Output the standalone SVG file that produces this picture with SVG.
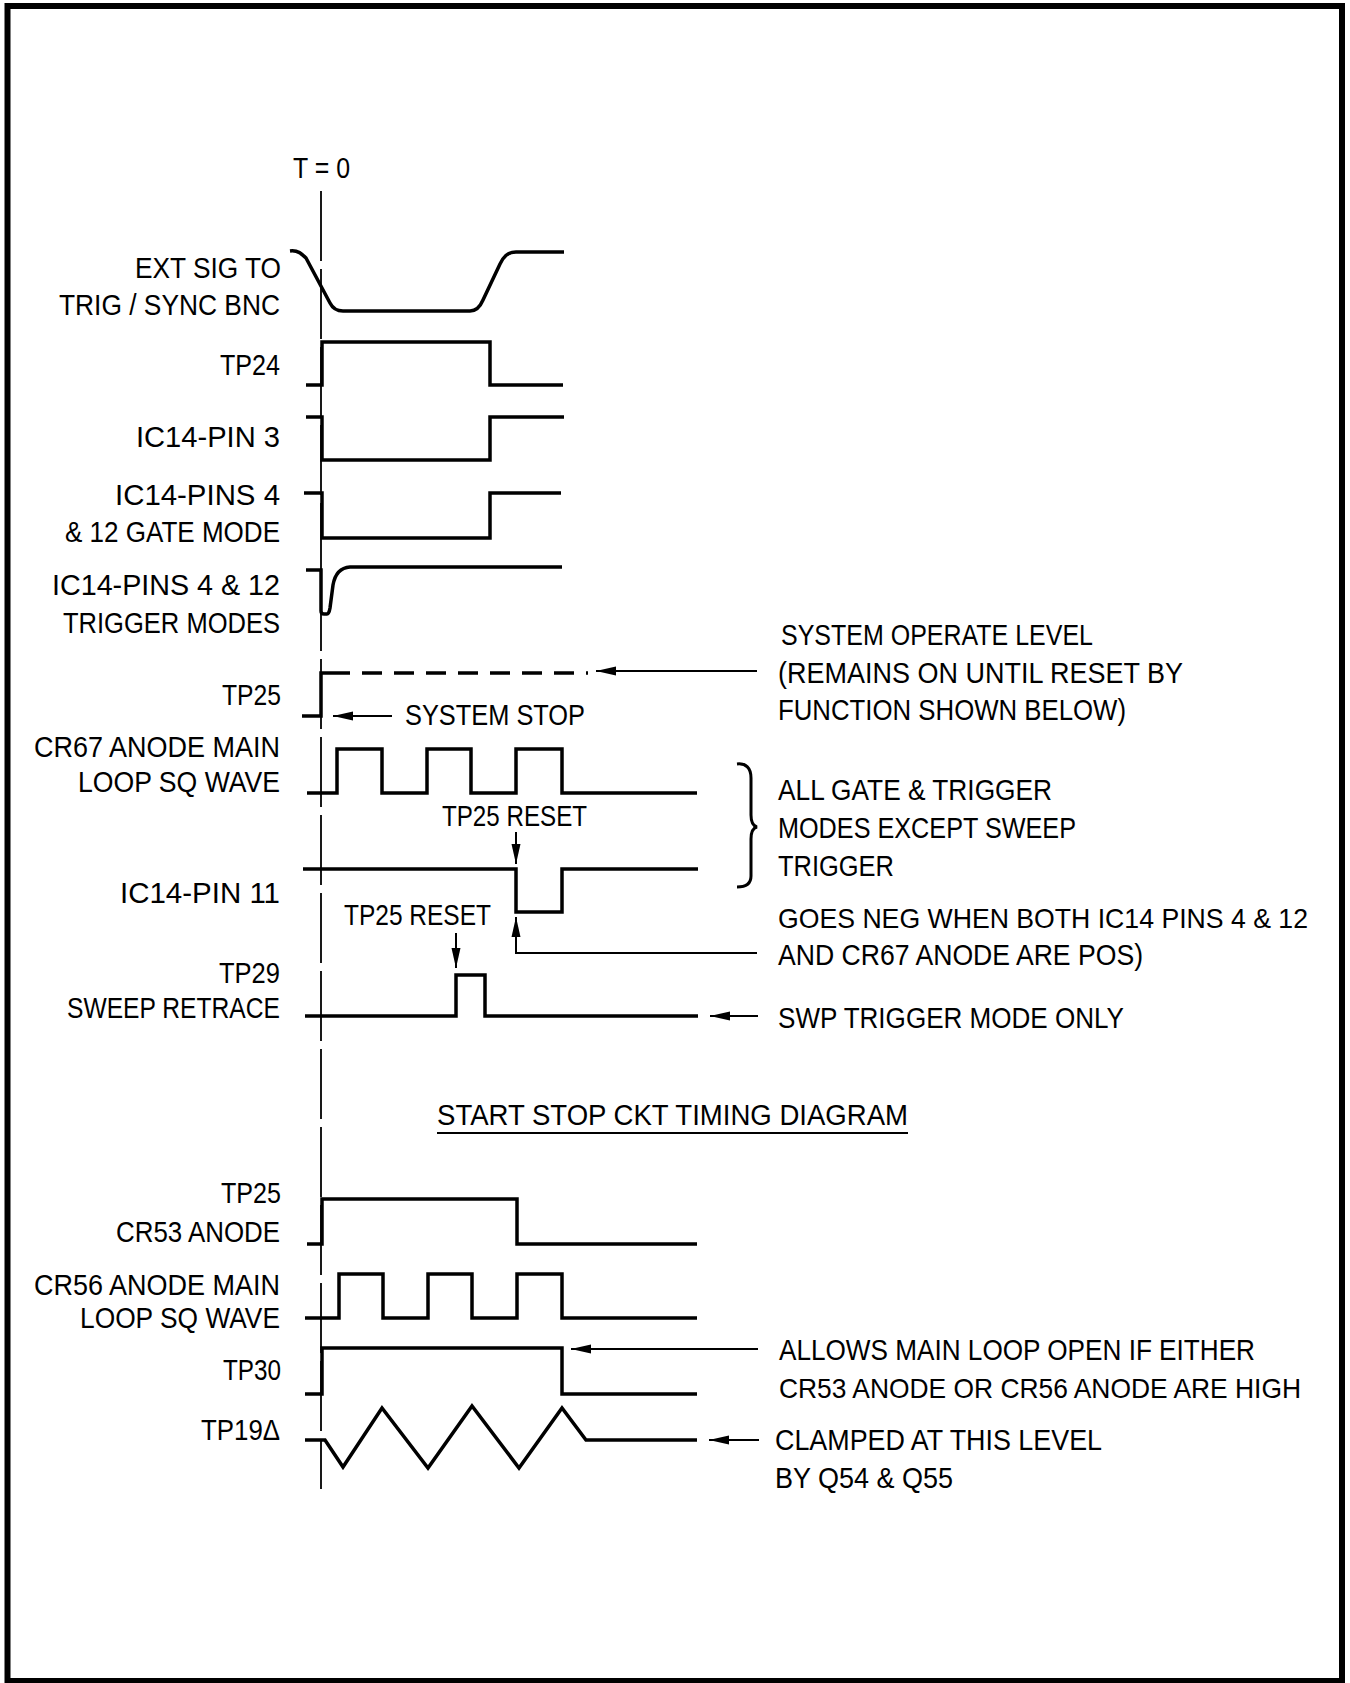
<svg xmlns="http://www.w3.org/2000/svg" width="1350" height="1683" viewBox="0 0 1350 1683">
<defs>
<style>
text{font-family:"Liberation Sans Narrow","Liberation Sans",Arial,sans-serif;font-size:29px;fill:#000}
.l{text-anchor:end}
.s{font-size:27.5px}
.w{fill:none;stroke:#000;stroke-width:3.5;stroke-linejoin:miter;stroke-linecap:butt}
.a{fill:none;stroke:#000;stroke-width:2}
.t0{fill:none;stroke:#000;stroke-width:1.8;stroke-dasharray:70 8}
</style>
<marker id="ah" viewBox="0 0 20 10" refX="20" refY="5" markerWidth="20" markerHeight="10" markerUnits="userSpaceOnUse" orient="auto"><path d="M0,0.5 L20,5 L0,9.5 z" fill="#000"/></marker>
</defs>
<rect x="0" y="0" width="1350" height="1683" fill="#fff"/>
<rect x="7.5" y="6" width="1334.5" height="1675" fill="none" stroke="#000" stroke-width="6"/>

<g id="t0">
<text x="293" y="178" textLength="57" lengthAdjust="spacingAndGlyphs">T = 0</text>
<line class="t0" x1="321" y1="191" x2="321" y2="1489"/>
</g>

<g id="ext-sig">
<text class="l" x="281" y="278" textLength="146" lengthAdjust="spacingAndGlyphs">EXT SIG TO</text>
<text class="l" x="280" y="315" textLength="221" lengthAdjust="spacingAndGlyphs">TRIG / SYNC BNC</text>
<path class="w" d="M290,251 C298,250 302,254 306,258 L330,303 C333,309 337,311 343,311 L470,311 C476,311 480,307 483,300 L500,264 C504,256 508,252 516,252 L564,252"/>
</g>

<g id="tp24">
<text class="l" x="280" y="375" textLength="60" lengthAdjust="spacingAndGlyphs">TP24</text>
<path class="w" d="M306,385 L322,385 L322,342 L490,342 L490,385 L563,385"/>
</g>

<g id="ic14-pin3">
<text class="l" x="280" y="447" textLength="144" lengthAdjust="spacingAndGlyphs">IC14-PIN 3</text>
<path class="w" d="M306,417 L322,417 L322,460 L490,460 L490,417 L564,417"/>
</g>

<g id="ic14-pins4-gate">
<text class="l" x="280" y="505" textLength="165" lengthAdjust="spacingAndGlyphs">IC14-PINS 4</text>
<text class="l" x="280" y="542" textLength="215" lengthAdjust="spacingAndGlyphs">&amp; 12 GATE MODE</text>
<path class="w" d="M304,493 L322,493 L322,538 L490,538 L490,493 L561,493"/>
</g>

<g id="ic14-pins4-trigger">
<text class="l" x="280" y="595" textLength="228" lengthAdjust="spacingAndGlyphs">IC14-PINS 4 &amp; 12</text>
<text class="l" x="280" y="633" textLength="217" lengthAdjust="spacingAndGlyphs">TRIGGER MODES</text>
<path class="w" d="M306,570 L321,570 L321,611 Q321,614 324,614 L327,614 Q329,614 330,608 L333,585 Q336,568 350,567 L562,567"/>
</g>

<g id="tp25-top">
<text class="l" x="281" y="705" textLength="59" lengthAdjust="spacingAndGlyphs">TP25</text>
<path class="w" d="M302,716 L321,716 L321,673 L350,673"/>
<line class="w" x1="362" y1="673" x2="588" y2="673" stroke-dasharray="20 12"/>
</g>

<g id="system-operate">
<text x="781" y="645" textLength="312" lengthAdjust="spacingAndGlyphs">SYSTEM OPERATE LEVEL</text>
<text x="778" y="683" textLength="405" lengthAdjust="spacingAndGlyphs">(REMAINS ON UNTIL RESET BY</text>
<text x="778" y="720" textLength="348" lengthAdjust="spacingAndGlyphs">FUNCTION SHOWN BELOW)</text>
</g>

<g id="system-stop">
<text x="405" y="725" textLength="180" lengthAdjust="spacingAndGlyphs">SYSTEM STOP</text>
</g>

<g id="cr67">
<text class="l" x="280" y="757" textLength="246" lengthAdjust="spacingAndGlyphs">CR67 ANODE MAIN</text>
<text class="l" x="280" y="792" textLength="202" lengthAdjust="spacingAndGlyphs">LOOP SQ WAVE</text>
<path class="w" d="M307,793 L337,793 L337,749 L382,749 L382,793 L427,793 L427,749 L471,749 L471,793 L516,793 L516,749 L562,749 L562,793 L697,793"/>
</g>

<g id="reset1">
<text x="442" y="826" textLength="145" lengthAdjust="spacingAndGlyphs">TP25 RESET</text>
</g>

<g id="ic14-pin11">
<text class="l" x="280" y="903" textLength="160" lengthAdjust="spacingAndGlyphs">IC14-PIN 11</text>
<path class="w" d="M303,869 L516,869 L516,912 L562,912 L562,869 L698,869"/>
</g>

<g id="brace-note">
<path d="M737,764 C746,763 751,768 751,778 L751,815 C751,822 753,826 757,827 C753,828 751,832 751,839 L751,876 C751,884 746,887 737,887" fill="none" stroke="#000" stroke-width="3"/>
<text x="778" y="800" textLength="274" lengthAdjust="spacingAndGlyphs">ALL GATE &amp; TRIGGER</text>
<text x="778" y="838" textLength="298" lengthAdjust="spacingAndGlyphs">MODES EXCEPT SWEEP</text>
<text x="778" y="876" textLength="116" lengthAdjust="spacingAndGlyphs">TRIGGER</text>
</g>

<g id="goes-neg">
<text class="s" x="778" y="928" textLength="530" lengthAdjust="spacingAndGlyphs">GOES NEG WHEN BOTH IC14 PINS 4 &amp; 12</text>
<text x="778" y="965" textLength="365" lengthAdjust="spacingAndGlyphs">AND CR67 ANODE ARE POS)</text>
</g>

<g id="reset2">
<text x="344" y="925" textLength="147" lengthAdjust="spacingAndGlyphs">TP25 RESET</text>
</g>

<g id="tp29">
<text class="l" x="280" y="983" textLength="61" lengthAdjust="spacingAndGlyphs">TP29</text>
<text class="l" x="280" y="1018" textLength="213" lengthAdjust="spacingAndGlyphs">SWEEP RETRACE</text>
<path class="w" d="M305,1016 L456,1016 L456,975 L485,975 L485,1016 L698,1016"/>
</g>

<g id="swp-note">
<text x="778" y="1028" textLength="346" lengthAdjust="spacingAndGlyphs">SWP TRIGGER MODE ONLY</text>
</g>

<g id="title">
<text x="437" y="1125" textLength="471" lengthAdjust="spacingAndGlyphs">START STOP CKT TIMING DIAGRAM</text>
<line x1="437" y1="1133" x2="908" y2="1133" stroke="#000" stroke-width="2"/>
</g>

<g id="tp25-cr53">
<text class="l" x="281" y="1203" textLength="60" lengthAdjust="spacingAndGlyphs">TP25</text>
<text class="l" x="280" y="1242" textLength="164" lengthAdjust="spacingAndGlyphs">CR53 ANODE</text>
<path class="w" d="M307,1244 L322,1244 L322,1199 L517,1199 L517,1244 L697,1244"/>
</g>

<g id="cr56">
<text class="l" x="280" y="1295" textLength="246" lengthAdjust="spacingAndGlyphs">CR56 ANODE MAIN</text>
<text class="l" x="280" y="1328" textLength="200" lengthAdjust="spacingAndGlyphs">LOOP SQ WAVE</text>
<path class="w" d="M305,1318 L339,1318 L339,1274 L383,1274 L383,1318 L428,1318 L428,1274 L472,1274 L472,1318 L517,1318 L517,1274 L562,1274 L562,1318 L697,1318"/>
</g>

<g id="tp30">
<text class="l" x="281" y="1380" textLength="58" lengthAdjust="spacingAndGlyphs">TP30</text>
<path class="w" d="M305,1394 L322,1394 L322,1348 L562,1348 L562,1394 L697,1394"/>
</g>

<g id="allows-note">
<text x="779" y="1360" textLength="476" lengthAdjust="spacingAndGlyphs">ALLOWS MAIN LOOP OPEN IF EITHER</text>
<text class="s" x="779" y="1398" textLength="522" lengthAdjust="spacingAndGlyphs">CR53 ANODE OR CR56 ANODE ARE HIGH</text>
</g>

<g id="tp19">
<text class="l" x="280" y="1440" textLength="79" lengthAdjust="spacingAndGlyphs">TP19Δ</text>
<path class="w" d="M305,1440 L325,1440 L343,1467 L382,1408 L428,1468 L472,1406 L519,1468 L562,1408 L586,1440 L697,1440"/>
</g>

<g id="clamped-note">
<text x="775" y="1450" textLength="327" lengthAdjust="spacingAndGlyphs">CLAMPED AT THIS LEVEL</text>
<text x="775" y="1488" textLength="178" lengthAdjust="spacingAndGlyphs">BY Q54 &amp; Q55</text>
</g>

<g id="connectors">
<line class="a" x1="757" y1="671" x2="596" y2="671" marker-end="url(#ah)"/>
<line class="a" x1="392" y1="716" x2="333" y2="716" marker-end="url(#ah)"/>
<line class="a" x1="516" y1="832" x2="516" y2="864" marker-end="url(#ah)"/>
<path class="a" d="M757,953 L516,953 L516,917" marker-end="url(#ah)"/>
<line class="a" x1="456" y1="933" x2="456" y2="968" marker-end="url(#ah)"/>
<line class="a" x1="758" y1="1016" x2="710" y2="1016" marker-end="url(#ah)"/>
<line class="a" x1="758" y1="1349" x2="571" y2="1349" marker-end="url(#ah)"/>
<line class="a" x1="759" y1="1440" x2="709" y2="1440" marker-end="url(#ah)"/>
</g>
</svg>
